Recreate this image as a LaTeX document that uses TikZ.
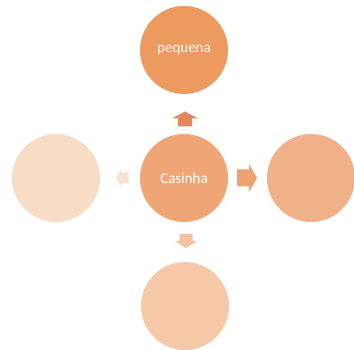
\documentclass[tikz,border=0pt]{standalone}
\usepackage{fontspec}
\setmainfont{Carlito}
\definecolor{ctop}{HTML}{EC9A60}
\definecolor{ccen}{HTML}{EFA575}
\definecolor{cright}{HTML}{F0B088}
\definecolor{cbot}{HTML}{F5C8A8}
\definecolor{cleft}{HTML}{F7DCC6}
\definecolor{aup}{HTML}{E2875A}
\definecolor{aright}{HTML}{EDA070}
\definecolor{adown}{HTML}{F3C0A0}
\definecolor{aleft}{HTML}{FAE3D3}
\tikzset{
  ball/.style={circle, minimum size=88pt, inner sep=0pt, text=white, font=\fontsize{15}{17}\selectfont},
}
% #1 name, #2 rotation, #3 colour, #4 total length, #5 head width, #6 shaft width, #7 head length
\newcommand{\myblockarrow}[7]{%
  \fill[#3, shift={(#1)}, rotate=#2]
    (-#4/2, -#6/2) -- (#4/2-#7, -#6/2) -- (#4/2-#7, -#5/2) -- (#4/2, 0)
    -- (#4/2-#7, #5/2) -- (#4/2-#7, #6/2) -- (-#4/2, #6/2) -- cycle;}
\begin{document}
\begin{tikzpicture}[x=1pt,y=-1pt]
\useasboundingbox[fill=white] (0,0) rectangle (354,350);
\node[ball, fill=ctop] (top) at (184,50) {pequena};
\node[ball, fill=ccen] (cen) at (184,178) {Casinha};
\node[ball, fill=cright] (right) at (311,178) {};
\node[ball, fill=cbot] (bot) at (185,306) {};
\node[ball, fill=cleft] (left) at (56,178) {};
\coordinate (aup) at (185,119);
\coordinate (aright) at (247,178);
\coordinate (adown) at (186,241);
\coordinate (aleft) at (122,178);
\myblockarrow{aup}{90}{aup}{15}{26}{14}{7}
\myblockarrow{aright}{0}{aright}{20}{28}{17}{8}
\myblockarrow{adown}{-90}{adown}{14}{22}{13}{7}
\myblockarrow{aleft}{180}{aleft}{13}{18}{11}{6}
\end{tikzpicture}
\end{document}
